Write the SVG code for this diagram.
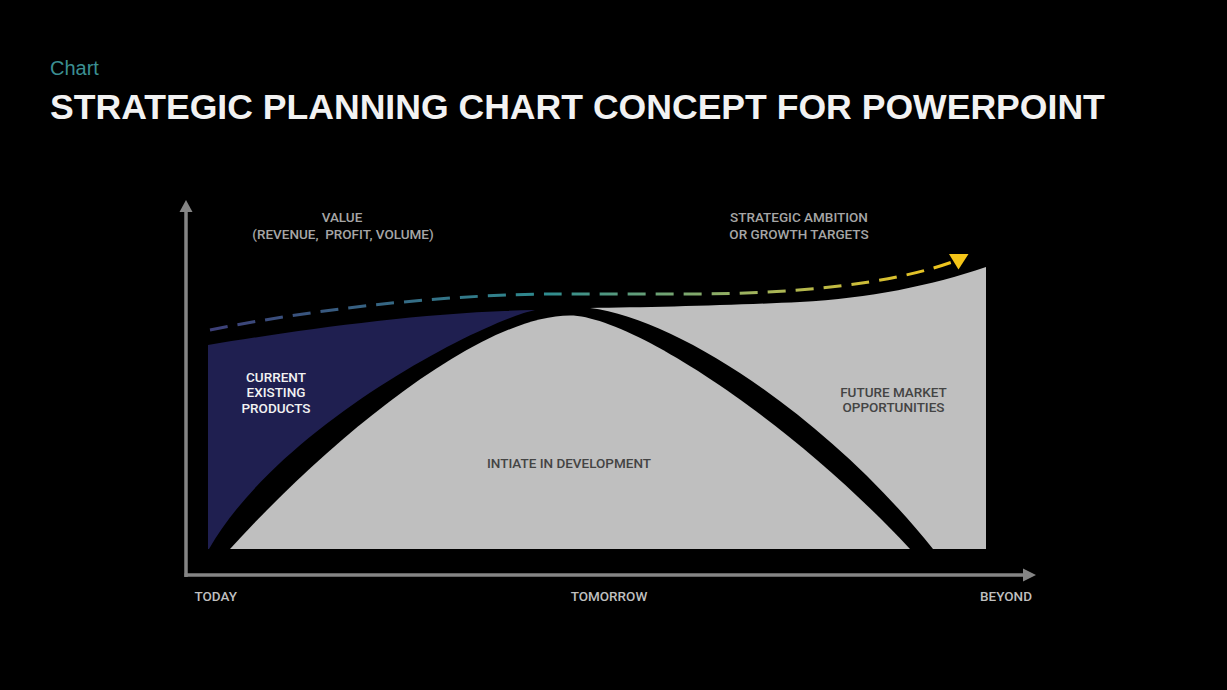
<svg xmlns="http://www.w3.org/2000/svg" width="1227" height="690" viewBox="0 0 1227 690">
  <defs>
    <linearGradient id="dashGrad" gradientUnits="userSpaceOnUse" x1="210" y1="0" x2="960" y2="0">
      <stop offset="0" stop-color="#3d3f78"/>
      <stop offset="0.45" stop-color="#2f8c8f"/>
      <stop offset="0.72" stop-color="#9fb35e"/>
      <stop offset="1" stop-color="#f4c619"/>
    </linearGradient>
    <style>
      .lbl { font-family: Roboto, "Liberation Sans", sans-serif; font-size: 13.5px; font-weight: 500; }
      .axis { fill: #bfbfbf; }
      .top { fill: #a6a6a6; }
      .dark { fill: #444444; }
      .white { fill: #f2f2f2; }
      .axisline { stroke: #858585; stroke-width: 3.5; fill: none; }
      .axishead { fill: #858585; }
      .grey { fill: #bfbfbf; }
    </style>
  </defs>
  <rect x="0" y="0" width="1227" height="690" fill="#000000"/>

  <g id="header">
    <text x="50" y="118.5" font-family="'Liberation Sans', Arial, sans-serif" font-size="35.6" font-weight="bold" fill="#f2f2f2">STRATEGIC PLANNING CHART CONCEPT FOR POWERPOINT</text>
    <text x="50" y="75" font-family="'Liberation Sans', Arial, sans-serif" font-size="20" fill="#3b8f92">Chart</text>
  </g>

  <g id="future-area">
    <path class="grey" d="M933,549 C830,420 680,319 590,308 C650,307.5 740,305 800,302 C870,298 930,286 986,267 L986,549 Z"/>
  </g>
  <g id="development-area">
    <path class="grey" d="M230,549 C330,439 480,315.5 570,315.5 C630,315.5 790,420 910,549 Z"/>
  </g>
  <g id="current-area">
    <path d="M208,345 C300,330 420,312 535,310 C480,322 280,425 209,549 L208,549 Z" fill="#1f1f50"/>
  </g>

  <g id="connectors">
    <path id="ambition-line" d="M210,330 C330,306 460,294 560,294 L690,294 C790,294 890,285 955,261" fill="none" stroke="url(#dashGrad)" stroke-width="3" stroke-dasharray="18 10"/>
    <polygon points="949,254 968.5,254 958.5,269.5" fill="#f5c518"/>
    <line class="axisline" x1="186" y1="577" x2="186" y2="210"/>
    <polygon class="axishead" points="186,200 192.5,212 179.5,212"/>
    <line class="axisline" x1="184.5" y1="575" x2="1025" y2="575"/>
    <polygon class="axishead" points="1036,575 1023,568.5 1023,581.5"/>
  </g>

  <g id="label-value">
    <text class="lbl top" x="342" y="222" text-anchor="middle">VALUE</text>
    <text class="lbl top" x="343" y="238.5" text-anchor="middle" style="white-space:pre">(REVENUE,  PROFIT, VOLUME)</text>
  </g>
  <g id="label-ambition">
    <text class="lbl top" x="799" y="222" text-anchor="middle">STRATEGIC AMBITION</text>
    <text class="lbl top" x="799" y="238.5" text-anchor="middle">OR GROWTH TARGETS</text>
  </g>
  <g id="label-current">
    <text class="lbl white" x="276" y="381.5" text-anchor="middle">CURRENT</text>
    <text class="lbl white" x="276" y="397" text-anchor="middle">EXISTING</text>
    <text class="lbl white" x="276" y="412.5" text-anchor="middle">PRODUCTS</text>
  </g>
  <g id="label-development">
    <text class="lbl dark" x="569" y="468" text-anchor="middle">INTIATE IN DEVELOPMENT</text>
  </g>
  <g id="label-future">
    <text class="lbl dark" x="893.5" y="396.5" text-anchor="middle">FUTURE MARKET</text>
    <text class="lbl dark" x="893.5" y="412" text-anchor="middle">OPPORTUNITIES</text>
  </g>
  <g id="axis-labels">
    <text class="lbl axis" x="194.5" y="601">TODAY</text>
    <text class="lbl axis" x="609" y="601" text-anchor="middle">TOMORROW</text>
    <text class="lbl axis" x="1032" y="601" text-anchor="end">BEYOND</text>
  </g>
</svg>
